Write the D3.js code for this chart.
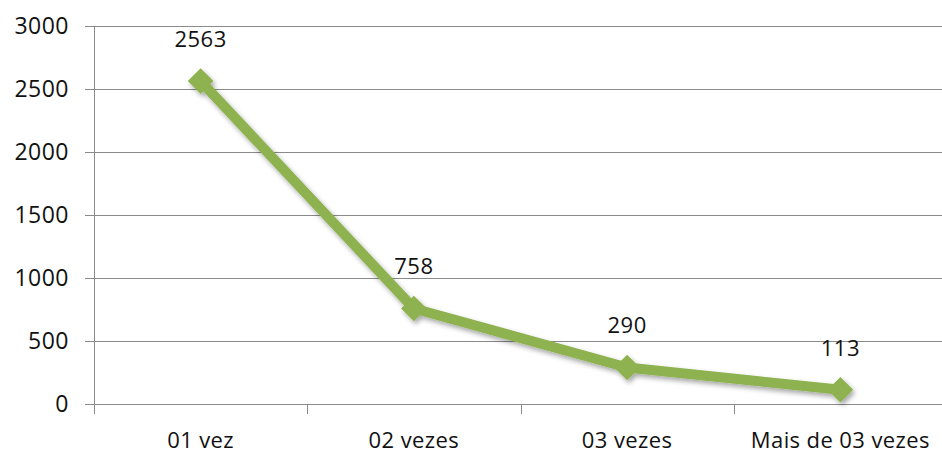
<!DOCTYPE html>
<html>
<head>
<meta charset="utf-8">
<style>
  body { margin: 0; background: #fff; }
  text { font-family: "Open Sans", sans-serif; fill: #111; }
</style>
</head>
<body>
<div id="chartContainer"></div>
<script src="https://cdn.jsdelivr.net/npm/d3@7"></script>
<script>
// categories and values
var categories = ["01 vez", "02 vezes", "03 vezes", "Mais de 03 vezes"];
var values = [2563, 758, 290, 113];
var yTicks = [0, 500, 1000, 1500, 2000, 2500, 3000];

var width = 942, height = 462;
var svg = d3.select("#chartContainer").append("svg")
  .attr("width", width).attr("height", height);

// plot area (right edge runs past the window like in the picture)
var plotLeft = 94, plotRight = 947, plotTop = 26, plotBottom = 404;

var x = d3.scaleBand().domain(categories).range([plotLeft, plotRight]);
var y = d3.scaleLinear().domain([0, 3000]).range([plotBottom, plotTop]);

// shadow for the line + markers
var defs = svg.append("defs");
var f = defs.append("filter").attr("id", "shadow")
  .attr("x", "-20%").attr("y", "-20%").attr("width", "140%").attr("height", "140%");
f.append("feDropShadow").attr("dx", 2).attr("dy", 3)
  .attr("stdDeviation", 2.5).attr("flood-color", "#000").attr("flood-opacity", 0.35);

// horizontal gridlines
svg.append("g").selectAll("line").data(yTicks).join("line")
  .attr("x1", plotLeft - 9).attr("x2", plotRight)
  .attr("y1", function (d) { return Math.round(y(d)) + 0.5; })
  .attr("y2", function (d) { return Math.round(y(d)) + 0.5; })
  .attr("stroke", "#8a8a8a").attr("stroke-width", 1);

// y axis labels
svg.append("g").selectAll("text").data(yTicks).join("text")
  .attr("x", 69).attr("y", function (d) { return y(d) + 8; })
  .attr("text-anchor", "end")
  .style("font-size", "23px")
  .style("letter-spacing", "0.5px")
  .text(function (d) { return d; });

// y axis line
svg.append("line")
  .attr("x1", plotLeft + 0.5).attr("x2", plotLeft + 0.5)
  .attr("y1", plotTop).attr("y2", plotBottom + 10)
  .attr("stroke", "#8a8a8a");

// x axis category tick marks (band edges)
var edges = categories.map(function (c) { return x(c); }).concat([plotRight]);
svg.append("g").selectAll("line").data(edges).join("line")
  .attr("x1", function (d) { return Math.round(d) + 0.5; })
  .attr("x2", function (d) { return Math.round(d) + 0.5; })
  .attr("y1", plotBottom).attr("y2", plotBottom + 10)
  .attr("stroke", "#8a8a8a");

// category labels
svg.append("g").selectAll("text").data(categories).join("text")
  .attr("x", function (d) { return x(d) + x.bandwidth() / 2; })
  .attr("y", 448)
  .attr("text-anchor", "middle")
  .style("font-size", "22px")
  .style("letter-spacing", "0.4px")
  .text(function (d) { return d; });

var pts = categories.map(function (c, i) {
  return { cat: c, v: values[i], px: x(c) + x.bandwidth() / 2, py: y(values[i]) };
});

var series = svg.append("g").attr("filter", "url(#shadow)");

series.append("path")
  .datum(pts)
  .attr("d", d3.line().x(function (d) { return d.px; }).y(function (d) { return d.py; }))
  .attr("fill", "none")
  .attr("stroke", "#8db24f")
  .attr("stroke-width", 10)
  .attr("stroke-linejoin", "round");

series.selectAll("path.marker").data(pts).join("path")
  .attr("class", "marker")
  .attr("transform", function (d) { return "translate(" + d.px + "," + d.py + ")"; })
  .attr("d", d3.symbol().type(d3.symbolDiamond2).size(420))
  .attr("fill", "#8db24f");

// data labels
svg.append("g").selectAll("text").data(pts).join("text")
  .attr("x", function (d) { return d.px; })
  .attr("y", function (d) { return d.py - 34; })
  .attr("text-anchor", "middle")
  .style("font-size", "22px")
  .style("letter-spacing", "0.5px")
  .text(function (d) { return d.v; });
</script>
</body>
</html>
